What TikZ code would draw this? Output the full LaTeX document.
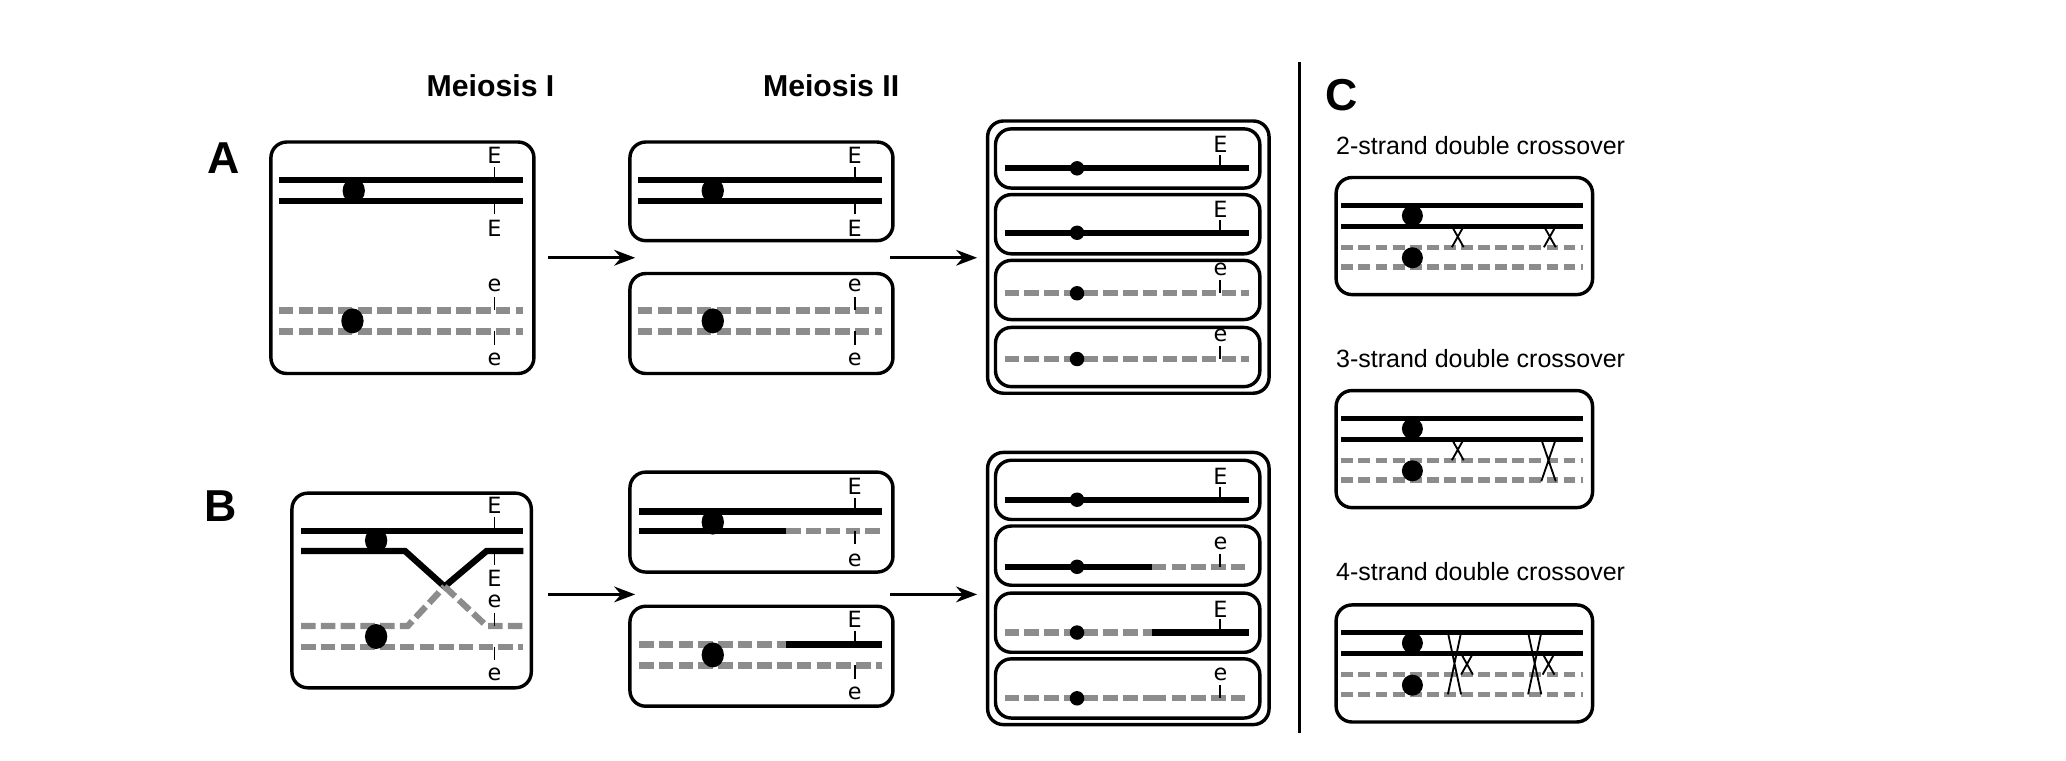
\documentclass[tikz,border=0pt]{standalone}
\usepackage{fontspec}
\setmainfont{DejaVu Sans}
\newfontfamily\hd{Liberation Sans}
\usetikzlibrary{arrows.meta,shapes.geometric}
\begin{document}
\begin{tikzpicture}[x=0.5pt,y=-0.5pt,
 bx/.style={draw,line width=1.3pt,rounded corners=6pt},
 blk/.style={line width=2.4pt,black},
 gry/.style={line width=2.4pt,gray!90,dash pattern=on 5.5pt off 2pt},
 blkc/.style={line width=2pt,black},
 gryc/.style={line width=2pt,gray!90,dash pattern=on 4.5pt off 2pt},
 cen/.style={fill=black,ellipse,inner sep=0pt,minimum width=8.5pt,minimum height=9.5pt},
 dot/.style={fill=black,circle,inner sep=0pt,minimum size=5.5pt},
 cenc/.style={fill=black,circle,inner sep=0pt,minimum size=8pt},
 tk/.style={line width=0.7pt},
 lb/.style={inner sep=0pt,font=\fontsize{8.5}{9}\selectfont},
 ar/.style={-{Stealth[length=8pt,width=6pt]},line width=1pt},
 ttl/.style={font=\hd\bfseries\fontsize{11.5}{12}\selectfont},
 big/.style={font=\hd\bfseries\fontsize{17}{18}\selectfont},
 ct/.style={font=\hd\fontsize{9.5}{10}\selectfont,anchor=west}]
\useasboundingbox (0,0) rectangle (1571,578);
\node[ttl] (t1) at (373,65) {Meiosis I};
\node[ttl] (t2) at (632,65) {Meiosis II};
\node[big] (lA) at (170,120) {A};
\node[big] (lB) at (168,385) {B};
\node[big] (lC) at (1020,72) {C};
\coordinate (v1) at (988,47); \coordinate (v2) at (988,557);
\draw[line width=1pt] (v1)--(v2);
% ---------- A ----------
\draw[bx] (206,108) rectangle (406,284);
\draw[blk] (212,137)--(398,137); \draw[blk] (212,153)--(398,153);
\draw[gry] (212,236)--(398,236); \draw[gry] (212,252)--(398,252);
\node[cen] (ca1) at (269,145) {}; \node[cen] (ca2) at (268,244) {};
\draw[tk] (376,127)--(376,137); \draw[tk] (376,153)--(376,163);
\draw[tk] (376,226)--(376,236); \draw[tk] (376,252)--(376,262);
\node[lb] (a1) at (376,118) {E}; \node[lb] (a2) at (376,174) {E};
\node[lb] (a3) at (376,217) {e}; \node[lb] (a4) at (376,273) {e};
\draw[bx] (479,108) rectangle (679,183);
\draw[blk] (485,137)--(671,137); \draw[blk] (485,153)--(671,153);
\node[cen] (ca3) at (542,145) {};
\draw[tk] (650,127)--(650,137); \draw[tk] (650,153)--(650,163);
\node[lb] (a5) at (650,118) {E}; \node[lb] (a6) at (650,174) {E};
\draw[bx] (479,208) rectangle (679,284);
\draw[gry] (485,236)--(671,236); \draw[gry] (485,252)--(671,252);
\node[cen] (ca4) at (542,244) {};
\draw[tk] (650,226)--(650,236); \draw[tk] (650,252)--(650,262);
\node[lb] (a7) at (650,217) {e}; \node[lb] (a8) at (650,273) {e};
\coordinate (p1) at (417,196); \coordinate (p2) at (483,196);
\coordinate (p3) at (677,196); \coordinate (p4) at (743,196);
\draw[ar] (p1)--(p2); \draw[ar] (p3)--(p4);
\draw[bx] (751,92) rectangle (965,299);
\foreach \t/\y/\s/\l in {98/128/blk/E,148/177/blk/E,198/223/gry/e,249/273/gry/e}{
 \draw[bx] (757,\t) rectangle (958,\t+45);
 \draw[\s] (764,\y)--(950,\y);
 \node[dot] at (819,\y) {};
 \draw[tk] (928,\y-10)--(928,\y);
 \node[lb] at (928,\y-18) {\l};}
% ---------- B ----------
\draw[bx] (222,375) rectangle (404,523);
\draw[blk] (229,404)--(398,404);
\draw[blk] (229,419)--(308,419)--(338,446)--(370,419)--(398,419);
\draw[gry] (229,476)--(310,476)--(338,446);
\draw[gry] (338,446)--(370,476)--(398,476);
\draw[gry] (229,492)--(398,492);
\node[cen] (cb1) at (286,411) {}; \node[cen] (cb2) at (286,484) {};
\draw[tk] (376,393)--(376,404); \draw[tk] (376,419)--(376,430);
\draw[tk] (376,466)--(376,476); \draw[tk] (376,492)--(376,502);
\node[lb] (b1) at (376,384) {E}; \node[lb] (b2) at (376,440) {E};
\node[lb] (b3) at (376,457) {e}; \node[lb] (b4) at (376,513) {e};
\draw[bx] (479,359) rectangle (679,435);
\draw[blk] (486,389)--(671,389);
\draw[blk] (486,404)--(598,404); \draw[gry] (598,404)--(671,404);
\node[cen] (cb3) at (542,397) {};
\draw[tk] (650,379)--(650,389); \draw[tk] (650,404)--(650,414);
\node[lb] (b5) at (650,370) {E}; \node[lb] (b6) at (650,426) {e};
\draw[bx] (479,461) rectangle (679,537);
\draw[gry] (486,490)--(598,490); \draw[blk] (598,490)--(671,490);
\draw[gry] (486,506)--(671,506);
\node[cen] (cb4) at (542,498) {};
\draw[tk] (650,480)--(650,490); \draw[tk] (650,506)--(650,516);
\node[lb] (b7) at (650,471) {E}; \node[lb] (b8) at (650,527) {e};
\coordinate (q1) at (417,452); \coordinate (q2) at (483,452);
\coordinate (q3) at (677,452); \coordinate (q4) at (743,452);
\draw[ar] (q1)--(q2); \draw[ar] (q3)--(q4);
\draw[bx] (751,344) rectangle (965,551);
\foreach \t/\y/\sa/\sb/\l in {350/380/blk/blk/E,400/431/blk/gry/e,451/481/gry/blk/E,501/531/gry/gry/e}{
 \draw[bx] (757,\t) rectangle (958,\t+45);
 \draw[\sa] (764,\y)--(876,\y); \draw[\sb] (876,\y)--(950,\y);
 \node[dot] at (819,\y) {};
 \draw[tk] (928,\y-10)--(928,\y);
 \node[lb] at (928,\y-18) {\l};}
% ---------- C ----------
\foreach \ty/\by/\txt in {111/135/2-strand double crossover,273/297/3-strand double crossover,435/460/4-strand double crossover}{
 \node[ct] at (1009,\ty) {\txt};
 \draw[bx] (1016,\by) rectangle (1211,\by+89);
 \draw[blkc] (1020,\by+21)--(1204,\by+21); \draw[blkc] (1020,\by+37)--(1204,\by+37);
 \draw[gryc] (1020,\by+53)--(1204,\by+53); \draw[gryc] (1020,\by+68)--(1204,\by+68);
 \node[cenc] at (1074,\by+29) {}; \node[cenc] at (1074,\by+61) {};}
\draw[tk] (1104,172)--(1113,188) (1113,172)--(1104,188);
\draw[tk] (1174,172)--(1183,188) (1183,172)--(1174,188);
\draw[tk] (1104,334)--(1113,350) (1113,334)--(1104,350);
\draw[tk] (1172,334)--(1183,366) (1183,334)--(1172,366);
\draw[tk] (1101,481)--(1111,528) (1111,481)--(1101,528);
\draw[tk] (1111,497)--(1120,513) (1120,497)--(1111,513);
\draw[tk] (1162,481)--(1172,528) (1172,481)--(1162,528);
\draw[tk] (1173,497)--(1182,513) (1182,497)--(1173,513);
\end{tikzpicture}
\end{document}
